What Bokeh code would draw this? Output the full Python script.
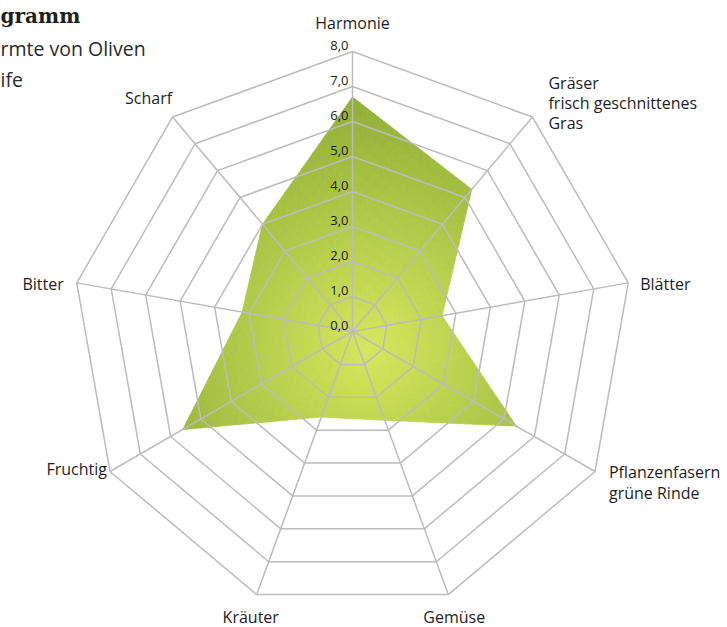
import numpy as np
from bokeh.plotting import figure
from bokeh.models import Range1d
from bokeh.core.properties import value
from bokeh.embed import file_html
from bokeh.resources import INLINE

# ---------------- data ----------------
categories = ["Harmonie", "Gräser\nfrisch geschnittenes\nGras", "Blätter",
              "Pflanzenfasern\ngrüne Rinde", "Gemüse", "Kräuter",
              "Fruchtig", "Bitter", "Scharf"]
values = [6.7, 5.3, 2.6, 5.4, 2.7, 2.6, 5.6, 3.2, 4.0]
tick_values = [0, 1, 2, 3, 4, 5, 6, 7, 8]
tick_labels = ["0,0", "1,0", "2,0", "3,0", "4,0", "5,0", "6,0", "7,0", "8,0"]
title_text = "gramm"
subtitle_lines = ["rmte von Oliven", "ife"]

# ---------------- layout ----------------
W, H = 727, 627
U = 35.0            # pixels per value unit
CX, CY = 352, 331   # centre of radar in canvas pixels
RMAX = 8

def px(xp, yp):
    return (xp - CX) / U, (CY - yp) / U

p = figure(width=W, height=H, output_backend="svg", toolbar_location=None,
           x_range=Range1d(-CX / U, (W - CX) / U),
           y_range=Range1d(-(H - CY) / U, CY / U),
           x_axis_location=None, y_axis_location=None,
           min_border=0, outline_line_color=None)
p.grid.visible = False
p.background_fill_color = "white"
p.border_fill_color = "white"

N = len(categories)
th = np.arange(N) * 2 * np.pi / N
vals = np.array(values, dtype=float)
vx = vals * np.sin(th)
vy = vals * np.cos(th)

# ---------------- radial-gradient fill (mesh of small triangles) ----------------
n = 16
gx, gy = 0.5, -0.5
c_in = np.array([213, 231, 92])
c_out = np.array([146, 175, 56])
xs, ys, cols = [], [], []
for i in range(N):
    j = (i + 1) % N
    B = np.array([vx[i], vy[i]])
    C = np.array([vx[j], vy[j]])

    def P(a, b):
        return B * a / n + C * b / n

    for a in range(n):
        for b in range(n - a):
            tris = [(P(a, b), P(a + 1, b), P(a, b + 1))]
            if a + b + 1 < n:
                tris.append((P(a + 1, b), P(a + 1, b + 1), P(a, b + 1)))
            for t in tris:
                mx = sum(q[0] for q in t) / 3
                my = sum(q[1] for q in t) / 3
                d = np.hypot(mx - gx, my - gy)
                f = min(d / 7.0, 1.0)
                c = c_in + (c_out - c_in) * f
                cols.append("#%02x%02x%02x" % tuple(int(round(v)) for v in c))
                xs.append([q[0] for q in t])
                ys.append([q[1] for q in t])
p.patches(xs, ys, fill_color=cols, line_color=cols, line_width=0.8)

# ---------------- grid ----------------
grid_col = "#bcbcbc"
for k in tick_values[1:]:
    rx = list(k * np.sin(th)) + [k * np.sin(th[0])]
    ry = list(k * np.cos(th)) + [k * np.cos(th[0])]
    p.line(rx, ry, line_color=grid_col, line_width=1.5)
p.segment(x0=np.zeros(N), y0=np.zeros(N), x1=RMAX * np.sin(th), y1=RMAX * np.cos(th),
          line_color=grid_col, line_width=1.5)

# ---------------- tick labels ----------------
p.text(x=[0] * len(tick_values), y=tick_values, text=tick_labels,
       text_align="right", text_baseline="middle", x_offset=-4, y_offset=-6,
       text_font=value("Open Sans"), text_font_size="13px", text_color="#1a1a1a")

# ---------------- category labels ----------------
lab_layout = [("center", 0, -29), ("left", 16, -14), ("left", 12, 1),
              ("left", 14, 11), ("center", 6, 22), ("center", -6, 22),
              ("right", -3, -3), ("right", -13, 1), ("center", -24, -19)]
for i, name in enumerate(categories):
    al, xo, yo = lab_layout[i]
    p.text(x=[RMAX * np.sin(th[i])], y=[RMAX * np.cos(th[i])], text=[name],
           text_align=al, text_baseline="middle", x_offset=xo, y_offset=yo,
           text_font=value("Open Sans"), text_font_size="16px", text_color="#1e1e1e",
           text_line_height=0.92)

# ---------------- titles (partly cut off) ----------------
tx, ty = px(0, 15)
p.text(x=[tx], y=[ty], text=[title_text], text_align="left", text_baseline="middle",
       text_font=value("DejaVu Serif"), text_font_style="bold", text_font_size="20px",
       text_color="#1f1f1f")
for k, line in enumerate(subtitle_lines):
    sx, sy = px(0, 48 + 31 * k)
    p.text(x=[sx], y=[sy], text=[line], text_align="left", text_baseline="middle",
           text_font=value("Open Sans"), text_font_size="19.5px", text_color="#2a2a2a")

open("out.html", "w").write(file_html(p, INLINE))
